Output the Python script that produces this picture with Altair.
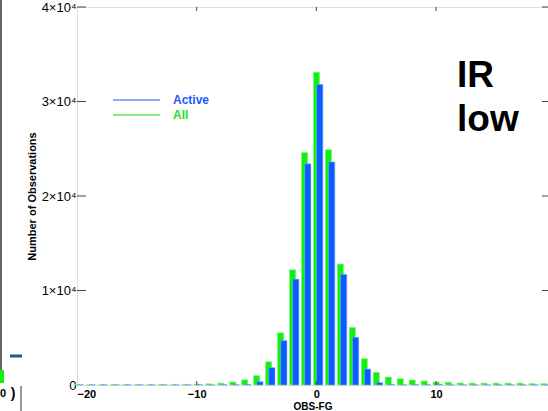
import altair as alt
import pandas as pd

bins = list(range(-20, 20))
all_counts = [40, 40, 40, 40, 50, 50, 50, 60, 60, 80,
              100, 130, 200, 320, 560, 1000, 2460, 5530, 12200, 24600,
              33100, 24900, 12800, 6100, 2790, 1340, 850, 670, 530, 420,
              320, 290, 210, 200, 200, 200, 200, 200, 150, 150]
active_counts = [20, 20, 20, 20, 20, 20, 20, 20, 20, 20,
                 20, 20, 30, 40, 60, 350, 1830, 4700, 11200, 23400,
                 31800, 23600, 11700, 5050, 1690, 250, 50, 30, 30, 30,
                 60, 20, 20, 20, 20, 20, 20, 20, 20, 20]
x_ticks = [-20, -10, 0, 10]
y_ticks = [0, 10000, 20000, 30000, 40000]
series_names = ["Active", "All"]
series_colors = ["#0a5cff", "#12f012"]
legend_line_colors = ["#5a96ff", "#5aee5a"]
x_domain = [-20, 19.35]
y_domain = [0, 40000]

df = pd.DataFrame({"bin": bins, "all": all_counts, "active": active_counts})

W, H = 471, 378
FONT = "Liberation Sans"

xs = alt.Scale(domain=x_domain, nice=False, zero=False)
ys = alt.Scale(domain=y_domain, nice=False)

base = alt.Chart(df)

green = base.transform_calculate(x0="datum.bin - 0.25", x1="datum.bin + 0.27").mark_bar(
    color=series_colors[1], stroke="#8af78a", strokeWidth=0.6
).encode(
    x=alt.X("x0:Q", scale=xs, axis=alt.Axis(values=x_ticks, tickSize=0, domain=False, grid=False,
                                            labelFont=FONT, labelFontSize=11, labelFontWeight="bold",
                                            labelColor="black", labelPadding=3, title="OBS-FG",
                                            titleFont=FONT, titleFontSize=10, titleFontWeight="bold",
                                            titlePadding=2, titleColor="black")),
    x2="x1:Q",
    y=alt.Y("all:Q", scale=ys, axis=alt.Axis(values=y_ticks, tickSize=0, domain=False, grid=False,
                                             labelFont=FONT, labelFontSize=13, labelColor="black",
                                             labelPadding=1,
                                             labelExpr="datum.value == 0 ? '0' : (datum.value/10000) + '×10⁴'",
                                             title="Number of Observations", titleFont=FONT,
                                             titleFontSize=11, titleFontWeight="bold", titleColor="black",
                                             titleX=-45, titleY=189, titleBaseline="middle")),
    y2=alt.datum(0),
)

blue = base.transform_calculate(x0="datum.bin + 0.02", x1="datum.bin + 0.54").mark_bar(
    color=series_colors[0], stroke="#7aa8ff", strokeWidth=0.6
).encode(
    x=alt.X("x0:Q", scale=xs),
    x2="x1:Q",
    y=alt.Y("active:Q", scale=ys),
    y2=alt.datum(0),
)

# inward tick marks
tick_y = pd.DataFrame({"v": [10000, 20000, 30000, 40000]})
left_ticks = alt.Chart(tick_y).mark_rule(color="#444", strokeWidth=1).encode(
    y=alt.Y("v:Q", scale=ys), x=alt.value(0), x2=alt.value(9))
right_ticks = alt.Chart(tick_y).mark_rule(color="#444", strokeWidth=1).encode(
    y=alt.Y("v:Q", scale=ys), x=alt.value(W - 6), x2=alt.value(W))
tick_x = pd.DataFrame({"v": [-10, 0, 10]})
top_ticks = alt.Chart(tick_x).mark_rule(color="#444", strokeWidth=1).encode(
    x=alt.X("v:Q", scale=xs), y=alt.value(0), y2=alt.value(4))
bottom_ticks = alt.Chart(tick_x).mark_rule(color="#444", strokeWidth=1).encode(
    x=alt.X("v:Q", scale=xs), y=alt.value(H - 4), y2=alt.value(H))

one = pd.DataFrame({"a": [0]})
leg_active_line = alt.Chart(one).mark_rule(color=legend_line_colors[0], strokeWidth=1.3).encode(
    x=alt.value(36), x2=alt.value(83), y=alt.value(93))
leg_all_line = alt.Chart(one).mark_rule(color=legend_line_colors[1], strokeWidth=1.3).encode(
    x=alt.value(36), x2=alt.value(83), y=alt.value(108))
leg_active_text = alt.Chart(one).mark_text(text=series_names[0], font=FONT, fontSize=12, fontWeight="bold",
                                           color="#1a5cff", align="left", baseline="middle").encode(
    x=alt.value(96), y=alt.value(93))
leg_all_text = alt.Chart(one).mark_text(text=series_names[1], font=FONT, fontSize=12, fontWeight="bold",
                                        color="#1ee01e", align="left", baseline="middle").encode(
    x=alt.value(96), y=alt.value(108))

ir_text = alt.Chart(one).mark_text(text="IR", font=FONT, fontSize=37, fontWeight="bold",
                                   color="black", align="left", baseline="middle").encode(
    x=alt.value(380), y=alt.value(69))
low_text = alt.Chart(one).mark_text(text="low", font=FONT, fontSize=37, fontWeight="bold",
                                    color="black", align="left", baseline="middle").encode(
    x=alt.value(380), y=alt.value(113))

# remnants of neighbouring panel at the left edge
rem_line = alt.Chart(one).mark_rule(color="#333", strokeWidth=1.5, clip=False).encode(
    x=alt.value(-76), y=alt.value(-7), y2=alt.value(376))
rem_green = alt.Chart(one).mark_rule(color="#12f012", strokeWidth=4, clip=False).encode(
    x=alt.value(-75), y=alt.value(363), y2=alt.value(376))
rem_blue = alt.Chart(one).mark_rule(color="#2d4f9e", strokeWidth=3, clip=False).encode(
    x=alt.value(-67), x2=alt.value(-55), y=alt.value(349))
rem_vline = alt.Chart(one).mark_rule(color="#333", strokeWidth=1, clip=False).encode(
    x=alt.value(-56), y=alt.value(379), y2=alt.value(404))
rem_text = alt.Chart(one).mark_text(text=")", font=FONT, fontSize=14, fontWeight="bold",
                                    color="black", align="center", baseline="middle").encode(
    x=alt.value(-64), y=alt.value(387))
rem_text0 = alt.Chart(one).mark_text(text="0", font=FONT, fontSize=11, fontWeight="bold",
                                     color="black", align="left", baseline="middle").encode(
    x=alt.value(-77), y=alt.value(387))

chart = alt.layer(
    green, blue, left_ticks, right_ticks, top_ticks, bottom_ticks,
    leg_active_line, leg_all_line, leg_active_text, leg_all_text, ir_text, low_text,
    rem_line, rem_green, rem_blue, rem_vline, rem_text, rem_text0,
).properties(
    width=W, height=H,
    autosize=alt.AutoSizeParams(type="none"),
    padding={"left": 77, "top": 7, "right": 0, "bottom": 26},
).configure_view(
    stroke="#222", strokeWidth=1.2
).configure(background="white")

chart.save("out.html", embed_options={"renderer": "svg", "actions": False})
